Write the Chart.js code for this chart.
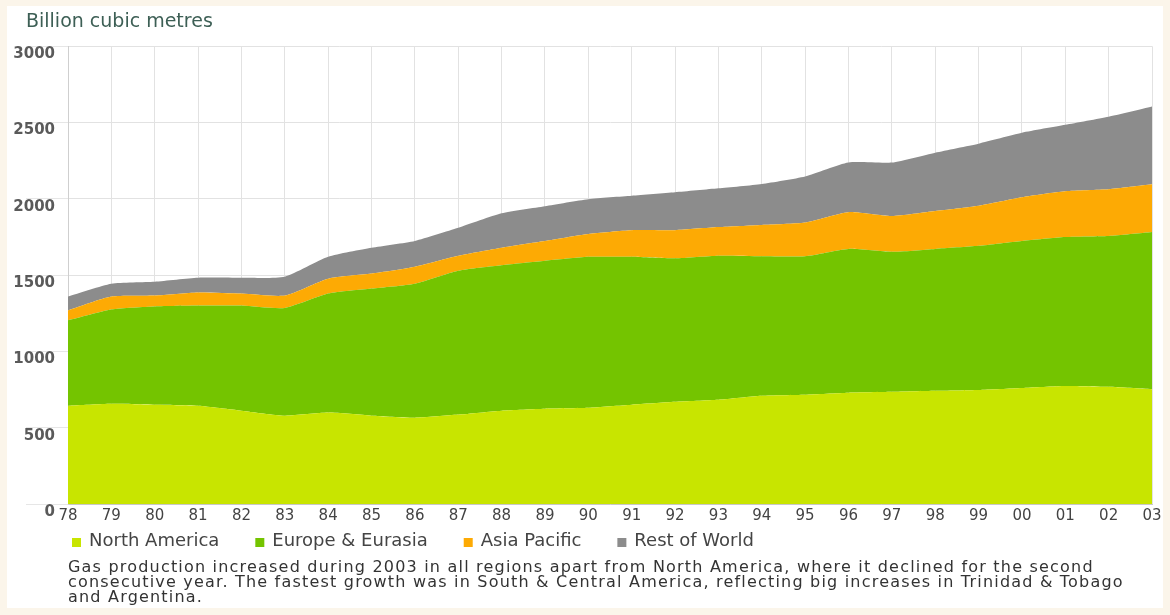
<!DOCTYPE html>
<html>
<head>
<meta charset="utf-8">
<title>Natural gas production by region</title>
<script src="https://cdn.jsdelivr.net/npm/chart.js@4.4.1/dist/chart.umd.min.js"></script>
<style>
  html, body { margin: 0; padding: 0; background: #ffffff; }
  #wrap { width: 1170px; height: 615px; }
</style>
</head>
<body>
<div id="wrap"><canvas id="gas" width="1170" height="615"></canvas></div>
<script>
// Gas production by region, billion cubic metres, 1978-2003
const years = ['78', '79', '80', '81', '82', '83', '84', '85', '86', '87', '88', '89', '90',
               '91', '92', '93', '94', '95', '96', '97', '98', '99', '00', '01', '02', '03'];

const northAmerica  = [644, 657, 651, 644, 612, 579, 599, 579, 566, 586, 612, 625, 631,
                       651, 670, 683, 709, 716, 729, 735, 742, 748, 761, 774, 768, 752];
const europeEurasia = [560, 618, 644, 657, 689, 706, 780, 833, 878, 943, 953, 969, 989,
                       969, 940, 944, 915, 908, 943, 918, 930, 944, 963, 976, 989, 1031];
const asiaPacific   = [65, 85, 71, 85, 78, 81, 98, 98, 111, 98, 115, 130, 150,
                       175, 185, 188, 205, 221, 241, 234, 248, 263, 287, 300, 306, 312];
const restOfWorld   = [91, 84, 91, 97, 104, 124, 143, 169, 169, 183, 225, 228, 228,
                       225, 248, 254, 269, 302, 325, 351, 383, 407, 422, 435, 475, 510];

const seriesNames = ['North America', 'Europe & Eurasia', 'Asia Pacific', 'Rest of World'];
const yTickValues = [0, 500, 1000, 1500, 2000, 2500, 3000];
const unitLabel = 'Billion cubic metres';
const noteLines = [
  'Gas production increased during 2003 in all regions apart from North America, where it declined for the second',
  'consecutive year. The fastest growth was in South & Central America, reflecting big increases in Trinidad & Tobago',
  'and Argentina.'
];

const FONT = '"DejaVu Sans", Verdana, sans-serif';
const palette = ['#c8e500', '#74c400', '#fdaa04', '#8c8c8c'];

// pale frame around the white panel
const panelFrame = {
  id: 'panelFrame',
  beforeDraw(chart) {
    const { ctx, width, height } = chart;
    ctx.save();
    ctx.fillStyle = '#fbf5ea';
    ctx.fillRect(0, 0, width, height);
    ctx.fillStyle = '#ffffff';
    ctx.fillRect(7, 6, width - 14, height - 13);
    ctx.restore();
  }
};

// let the value labels run left of the narrow y axis box without being clipped
const wideValueLabels = {
  id: 'wideValueLabels',
  afterLayout(chart) {
    chart.scales.y.left = 0;
  }
};

// single-row legend under the year labels, indented from the plot's left edge
const legendRow = {
  id: 'legendRow',
  afterDraw(chart, args, opts) {
    const { ctx, chartArea } = chart;
    const y = chart.scales.x.bottom + opts.rowOffset;
    ctx.save();
    ctx.font = `${opts.size}px ${FONT}`;
    ctx.textBaseline = 'middle';
    ctx.textAlign = 'left';
    let x = chartArea.left + opts.indent;
    chart.data.datasets.forEach(ds => {
      ctx.fillStyle = ds.backgroundColor;
      ctx.fillRect(x, y - opts.box / 2 + 1, opts.box, opts.box);
      ctx.fillStyle = opts.color;
      const tx = x + opts.box + opts.textGap;
      ctx.fillText(ds.label, tx, y);
      x = tx + ctx.measureText(ds.label).width + opts.itemGap;
    });
    ctx.restore();
  }
};

// explanatory note below the legend, aligned with the plot's left edge
const noteBlock = {
  id: 'noteBlock',
  afterDraw(chart, args, opts) {
    const { ctx, chartArea } = chart;
    const top = chart.scales.x.bottom + opts.firstOffset;
    ctx.save();
    ctx.font = `${opts.size}px ${FONT}`;
    if ('letterSpacing' in ctx) ctx.letterSpacing = opts.spacing + 'px';
    ctx.textBaseline = 'middle';
    ctx.textAlign = 'left';
    ctx.fillStyle = opts.color;
    opts.lines.forEach((line, i) => {
      ctx.fillText(line, chartArea.left, top + i * opts.lineHeight);
    });
    ctx.restore();
  }
};

const seriesData = [northAmerica, europeEurasia, asiaPacific, restOfWorld];

new Chart(document.getElementById('gas'), {
  type: 'line',
  data: {
    labels: years,
    datasets: seriesData.map((values, i) => ({
      label: seriesNames[i],
      data: values,
      backgroundColor: palette[i],
      borderColor: palette[i],
      borderWidth: 0,
      pointRadius: 0,
      tension: 0.2,
      fill: i === 0 ? 'origin' : '-1'
    }))
  },
  options: {
    responsive: false,
    devicePixelRatio: 1,
    animation: false,
    layout: { padding: { left: 26, right: 18, top: 0, bottom: 87 } },
    scales: {
      x: {
        grid: { color: '#e2e2e2', drawTicks: false },
        border: { color: '#c8c8c8' },
        ticks: {
          font: { family: FONT, size: 15 },
          color: '#444444',
          padding: 3,
          maxRotation: 0,
          autoSkip: false
        }
      },
      y: {
        stacked: true,
        min: 0,
        max: 3000,
        afterBuildTicks(scale) {
          scale.ticks = yTickValues.map(v => ({ value: v }));
        },
        afterFit(scale) { scale.width = 42; },
        grid: { color: '#e2e2e2', tickLength: 42, tickColor: '#e6e6e6' },
        border: { color: '#cfcfcf' },
        ticks: {
          font: { family: FONT, size: 15, weight: 'bold' },
          color: '#5a5a5a',
          padding: -29,
          labelOffset: 8,
          callback: v => String(v)
        }
      }
    },
    plugins: {
      legend: { display: false },
      tooltip: { enabled: false },
      title: {
        display: true,
        text: unitLabel,
        align: 'start',
        color: '#3d5f55',
        font: { family: FONT, size: 19, weight: 'normal', lineHeight: 1.2 },
        padding: { top: 11, bottom: 12.5 }
      },
      legendRow: {
        rowOffset: 13.5,
        indent: 4,
        box: 9,
        textGap: 8,
        itemGap: 36,
        size: 18,
        color: '#444444'
      },
      noteBlock: {
        lines: noteLines,
        firstOffset: 40,
        lineHeight: 14.8,
        size: 16,
        spacing: 1.2,
        color: '#333333'
      }
    }
  },
  plugins: [panelFrame, wideValueLabels, legendRow, noteBlock]
});
</script>
</body>
</html>
